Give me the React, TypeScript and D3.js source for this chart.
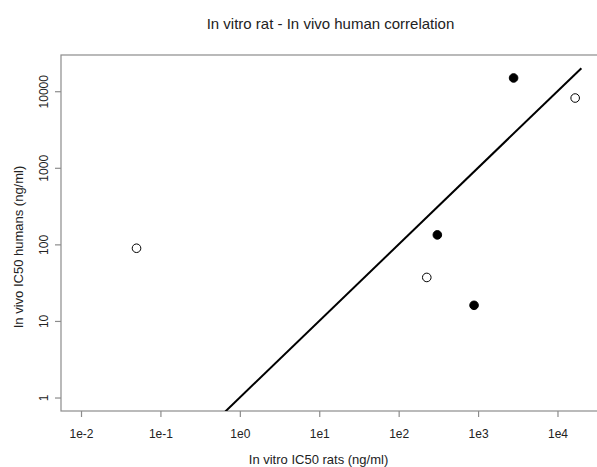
import React, { useEffect, useRef } from "react";
import * as d3 from "d3";

// data (ng/ml)
const ratIC50 = [0.05, 2800, 16700, 307, 226, 890];
const humanIC50 = [89, 14900, 8150, 133, 37, 16];
const filled = [false, true, false, true, false, true];
const fitX = [0.1, 20000];
const fitY = [0.1, 20000];
const xTicks = [1e-2, 1e-1, 1e0, 1e1, 1e2, 1e3, 1e4];
const xTickLabels = ["1e-2", "1e-1", "1e0", "1e1", "1e2", "1e3", "1e4"];
const yTicks = [1, 10, 100, 1000, 10000];
const yTickLabels = ["1", "10", "100", "1000", "10000"];

const App = () => {
  const ref = useRef<SVGSVGElement>(null);

  useEffect(() => {
    const svg = d3.select(ref.current);
    svg.selectAll("*").remove();
    const width = 597,
      height = 467;
    const left = 61,
      right = 601,
      top = 55,
      bottom = 411;
    const font = "'Liberation Sans', Arial, sans-serif";

    const x = d3.scaleLog().domain([Math.pow(10, -2.252), Math.pow(10, 4.548)]).range([left, right]);
    const y = d3.scaleLog().domain([Math.pow(10, -0.176), Math.pow(10, 4.473)]).range([bottom, top]);

    svg.attr("width", width).attr("height", height).style("display", "block").style("position", "absolute").style("left", 0).style("top", 0);
    svg.append("rect").attr("width", width).attr("height", height).attr("fill", "white");

    svg
      .append("defs")
      .append("clipPath")
      .attr("id", "plotclip")
      .append("rect")
      .attr("x", left)
      .attr("y", top)
      .attr("width", right - left)
      .attr("height", bottom - top);

    // box
    svg
      .append("rect")
      .attr("x", left)
      .attr("y", top)
      .attr("width", right - left)
      .attr("height", bottom - top)
      .attr("fill", "none")
      .attr("stroke", "#8c8c8c")
      .attr("stroke-width", 1.2);

    // x axis
    const gx = svg
      .append("g")
      .attr("transform", `translate(0,${bottom})`)
      .call(
        d3
          .axisBottom(x)
          .tickValues(xTicks)
          .tickSize(6)
          .tickFormat((d, i) => xTickLabels[i])
      );
    gx.select(".domain").remove();
    gx.selectAll(".tick line").attr("stroke", "#8c8c8c").attr("stroke-width", 1.2);
    gx.selectAll(".tick text")
      .attr("fill", "#222")
      .attr("y", 22.5)
      .attr("dy", "0.35em")
      .style("font-family", font)
      .style("font-size", "12px");

    // y axis
    const gy = svg
      .append("g")
      .attr("transform", `translate(${left},0)`)
      .call(
        d3
          .axisLeft(y)
          .tickValues(yTicks)
          .tickSize(6)
          .tickFormat((d, i) => yTickLabels[i])
      );
    gy.select(".domain").remove();
    gy.selectAll(".tick line").attr("stroke", "#8c8c8c").attr("stroke-width", 1.2);
    gy.selectAll(".tick text")
      .attr("fill", "#222")
      .attr("x", null)
      .attr("dy", null)
      .attr("transform", "translate(-13.5,0) rotate(-90)")
      .attr("text-anchor", "middle")
      .style("font-family", font)
      .style("font-size", "12px");

    // fit line
    const line = d3
      .line<number>()
      .x((d, i) => x(fitX[i]))
      .y((d, i) => y(fitY[i]));
    svg
      .append("path")
      .attr("clip-path", "url(#plotclip)")
      .attr("d", line(fitX))
      .attr("fill", "none")
      .attr("stroke", "black")
      .attr("stroke-width", 2);

    // points
    svg
      .append("g")
      .selectAll("circle")
      .data(ratIC50)
      .join("circle")
      .attr("cx", (d) => x(d))
      .attr("cy", (d, i) => y(humanIC50[i]))
      .attr("r", 4.3)
      .attr("fill", (d, i) => (filled[i] ? "black" : "white"))
      .attr("stroke", "black")
      .attr("stroke-width", 1);

    // titles
    svg
      .append("text")
      .attr("x", 330.5)
      .attr("y", 28.5)
      .attr("text-anchor", "middle")
      .style("font-family", font)
      .style("font-size", "15px")
      .attr("fill", "#222")
      .text("In vitro rat - In vivo human correlation");
    svg
      .append("text")
      .attr("x", 318.5)
      .attr("y", 463.5)
      .attr("text-anchor", "middle")
      .style("font-family", font)
      .style("font-size", "13px")
      .attr("fill", "#222")
      .text("In vitro IC50 rats (ng/ml)");
    svg
      .append("text")
      .attr("transform", `translate(22.5,247) rotate(-90)`)
      .attr("text-anchor", "middle")
      .style("font-family", font)
      .style("font-size", "13px")
      .attr("fill", "#222")
      .text("In vivo IC50 humans (ng/ml)");
  }, []);

  return <svg ref={ref}></svg>;
};

export default App;
